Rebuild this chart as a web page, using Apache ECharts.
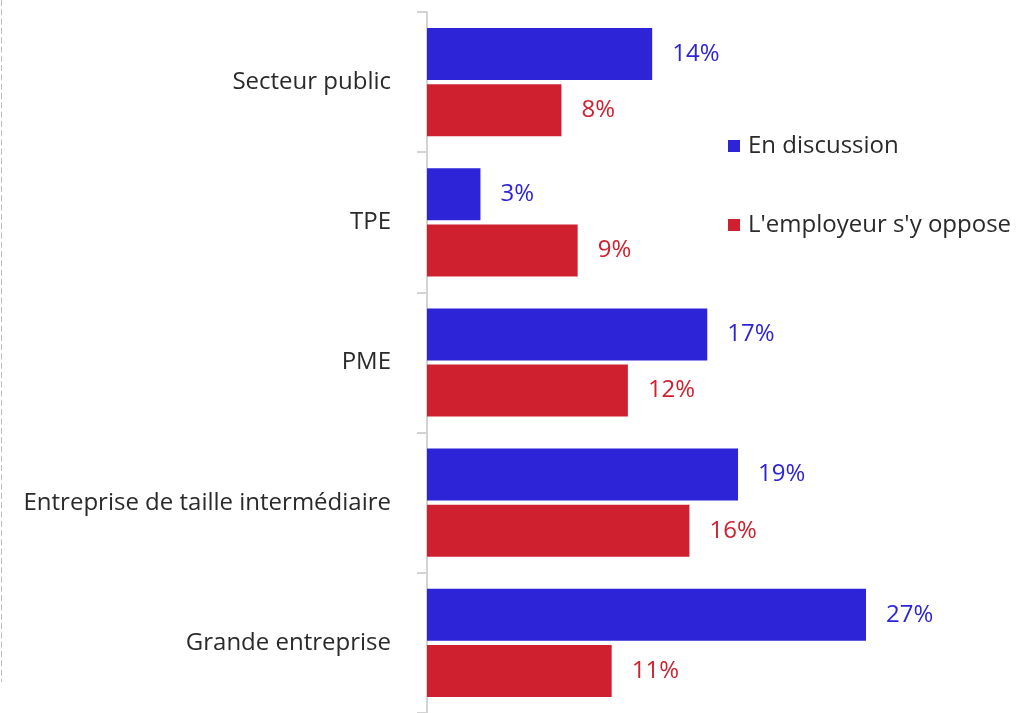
<!DOCTYPE html>
<html>
<head>
<meta charset="utf-8">
<script src="https://cdn.jsdelivr.net/npm/echarts@6/dist/echarts.min.js"></script>
<style>
html,body{margin:0;padding:0;background:#fff;}
#chart{width:1023px;height:713px;}
</style>
</head>
<body>
<div id="chart"></div>
<script>
const categories = ["Secteur public", "TPE", "PME", "Entreprise de taille intermédiaire", "Grande entreprise"];
const seriesNames = ["En discussion", "L'employeur s'y oppose"];
const enDiscussion = [13.9, 3.3, 17.3, 19.2, 27.1];
const employeurOppose = [8.3, 9.3, 12.4, 16.2, 11.4];

const FONT = "'Open Sans', Lato, sans-serif";
const BLUE = "#2d24d8";
const RED = "#cf2030";

const chart = echarts.init(document.getElementById('chart'), null, {renderer: 'canvas'});
chart.setOption({
  animation: false,
  backgroundColor: '#fff',
  textStyle: {fontFamily: FONT},
  graphic: [{
    type: 'line',
    shape: {x1: 1.5, y1: 0, x2: 1.5, y2: 682},
    style: {stroke: '#bdbdbd', lineWidth: 1, lineDash: [6, 3.3]}
  }],
  legend: {
    orient: 'vertical',
    left: 723,
    top: 129,
    itemWidth: 12,
    itemHeight: 12,
    itemGap: 55,
    icon: 'rect',
    textStyle: {fontFamily: FONT, fontSize: 24, color: '#2a2a2a', padding: [0, 0, 0, 3]},
    data: seriesNames
  },
  grid: {left: 427, right: 110, top: 12, bottom: -4, containLabel: false},
  xAxis: {
    type: 'value', min: 0, max: 30,
    show: false
  },
  yAxis: {
    type: 'category',
    data: categories,
    inverse: true,
    axisLine: {show: true, lineStyle: {color: '#d3d3d3', width: 2}},
    axisTick: {show: true, length: 10, lineStyle: {color: '#d3d3d3', width: 2}},
    axisLabel: {margin: 36, fontSize: 24, color: '#2a2a2a', fontFamily: FONT, padding: [3, 0, 0, 0]}
  },
  series: [
    {
      name: seriesNames[0], type: 'bar', data: enDiscussion,
      barWidth: 52, barGap: '8%',
      itemStyle: {color: BLUE},
      label: {show: true, position: 'right', distance: 20, fontSize: 24, color: BLUE, fontFamily: FONT,
        padding: [3, 0, 0, 0],
        formatter: p => Math.round(p.value) + '%'}
    },
    {
      name: seriesNames[1], type: 'bar', data: employeurOppose,
      barWidth: 52,
      itemStyle: {color: RED},
      label: {show: true, position: 'right', distance: 20, fontSize: 24, color: RED, fontFamily: FONT,
        padding: [3, 0, 0, 0],
        formatter: p => Math.round(p.value) + '%'}
    }
  ]
});
</script>
</body>
</html>
